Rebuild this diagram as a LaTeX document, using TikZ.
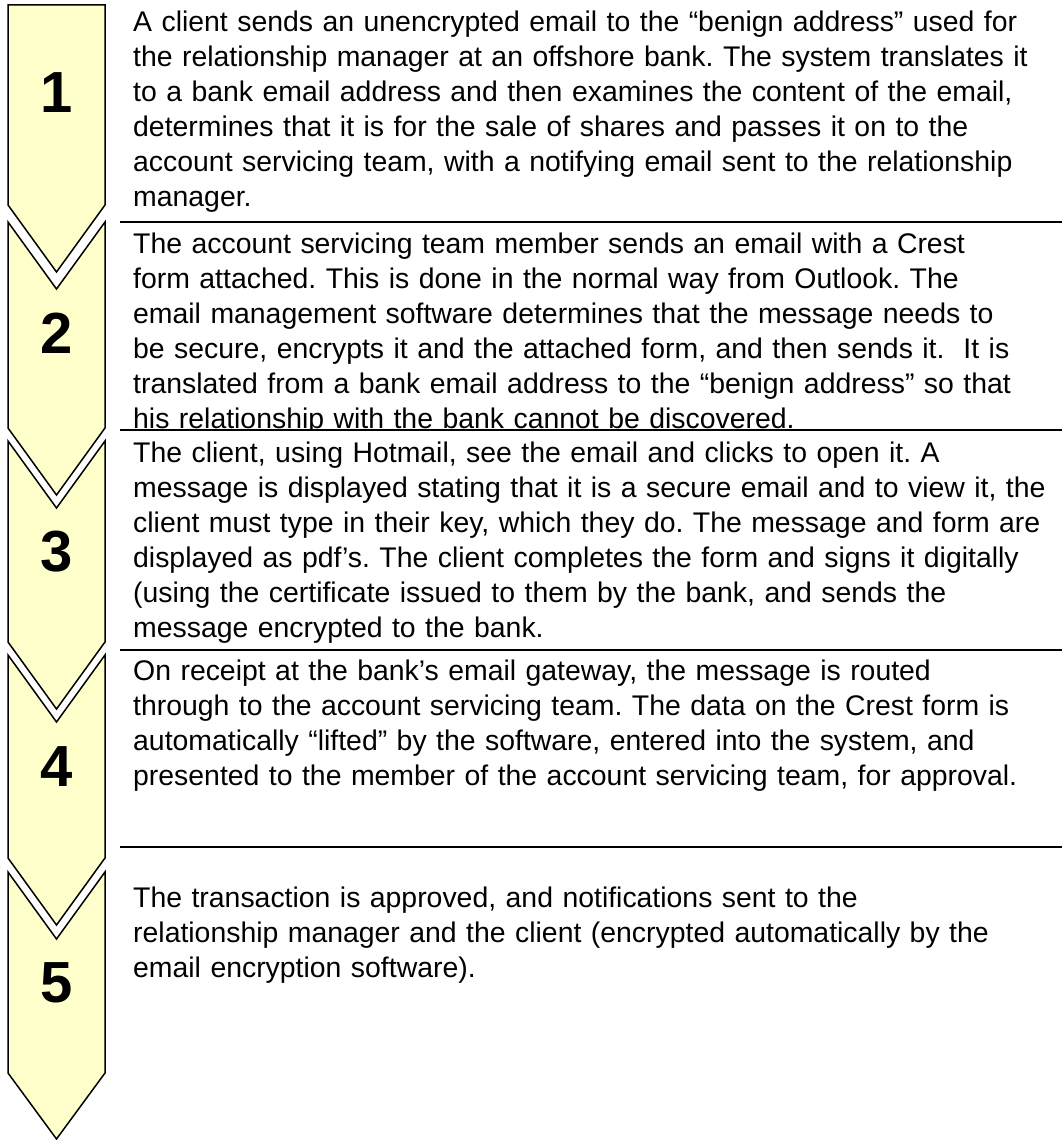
\documentclass[tikz,border=0pt]{standalone}
\usepackage{fontspec}
\setmainfont{Liberation Sans}
\definecolor{chevfill}{HTML}{FFFFCC}
\tikzset{
  chev/.style={draw=black,fill=chevfill,line width=1.5pt,line join=miter},
  num/.style={inner sep=0pt,font=\fontsize{58}{58}\selectfont\bfseries},
  stepbox/.style={anchor=north west,inner sep=0pt,text width=935pt,align=left,
    font=\fontsize{28.4}{35}\selectfont\frenchspacing},
  sep/.style={line width=2pt}
}
\begin{document}
\begin{tikzpicture}[x=1pt,y=-1pt]
  \useasboundingbox (0,0) rectangle (1062,1140);

  % chevrons
  \draw[chev] (8,5) -- (105,5) -- (105,205) -- (56.5,272) -- (8,205) -- cycle;
  \draw[chev] (8,222) -- (56.5,289) -- (105,222) -- (105,428) -- (56.5,495) -- (8,428) -- cycle;
  \draw[chev] (8,441) -- (56.5,508) -- (105,441) -- (105,642) -- (56.5,709) -- (8,642) -- cycle;
  \draw[chev] (8,655) -- (56.5,722) -- (105,655) -- (105,858) -- (56.5,925) -- (8,858) -- cycle;
  \draw[chev] (8,872) -- (56.5,939) -- (105,872) -- (105,1073) -- (56.5,1139) -- (8,1073) -- cycle;

  \node[num] (n1) at (56.5,93) {1};
  \node[num] (n2) at (56.5,333) {2};
  \node[num] (n3) at (56.5,552) {3};
  \node[num] (n4) at (56.5,767) {4};
  \node[num] (n5) at (56.5,983) {5};

  % step texts
  \node[stepbox] (t1) at (133,7) {\strut A client sends an unencrypted email to the “benign address” used for\\
    the relationship manager at an offshore bank. The system translates it\\
    to a bank email address and then examines the content of the email,\\
    determines that it is for the sale of shares and passes it on to the\\
    account servicing team, with a notifying email sent to the relationship\\
    manager.};
  \begin{scope}
    \clip (120,222) rectangle (1062,429);
    \node[stepbox] (t2) at (133,228.5) {\strut The account servicing team member sends an email with a Crest\\
      form attached. This is done in the normal way from Outlook. The\\
      email management software determines that the message needs to\\
      be secure, encrypts it and the attached form, and then sends it.~ It is\\
      translated from a bank email address to the “benign address” so that\\
      his relationship with the bank cannot be discovered.};
  \end{scope}
  \node[stepbox] (t3) at (133,437.5) {\strut The client, using Hotmail, see the email and clicks to open it. A\\
    message is displayed stating that it is a secure email and to view it, the\\
    client must type in their key, which they do. The message and form are\\
    displayed as pdf’s. The client completes the form and signs it digitally\\
    (using the certificate issued to them by the bank, and sends the\\
    message encrypted to the bank.};
  \node[stepbox] (t4) at (133,655.5) {\strut On receipt at the bank’s email gateway, the message is routed\\
    through to the account servicing team. The data on the Crest form is\\
    automatically “lifted” by the software, entered into the system, and\\
    presented to the member of the account servicing team, for approval.};
  \node[stepbox] (t5) at (133,882.5) {\strut The transaction is approved, and notifications sent to the\\
    relationship manager and the client (encrypted automatically by the\\
    email encryption software).};

  % separators
  \coordinate (s1a) at (120,222); \coordinate (s1b) at (1062,222);
  \coordinate (s2a) at (120,430); \coordinate (s2b) at (1062,430);
  \coordinate (s3a) at (120,650); \coordinate (s3b) at (1062,650);
  \coordinate (s4a) at (120,847); \coordinate (s4b) at (1062,847);
  \draw[sep] (s1a) -- (s1b); \draw[sep] (s2a) -- (s2b);
  \draw[sep] (s3a) -- (s3b); \draw[sep] (s4a) -- (s4b);
\end{tikzpicture}
\end{document}
